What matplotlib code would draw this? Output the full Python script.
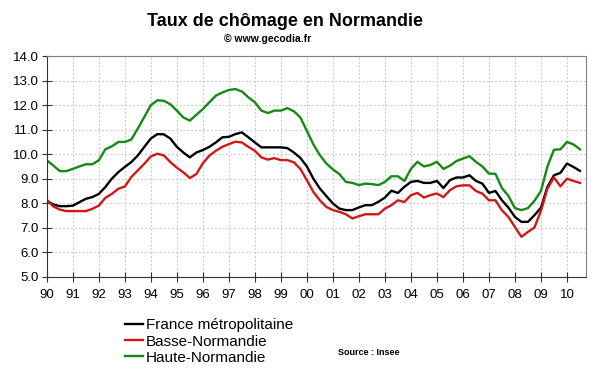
import matplotlib.pyplot as plt
import numpy as np

plt.rcParams['font.family'] = ['Liberation Sans', 'DejaVu Sans']

# Quarterly unemployment rate (%), 1990 Q1 -> 2010 Q3
start_year = 1990
france = [8.1, 7.95, 7.88, 7.88, 7.9, 8.04, 8.18, 8.25,
          8.38, 8.66, 9.0, 9.27, 9.48, 9.68, 9.95, 10.3,
          10.64, 10.82, 10.81, 10.64, 10.3, 10.07, 9.87, 10.07,
          10.17, 10.3, 10.48, 10.69, 10.71, 10.82, 10.89, 10.69,
          10.48, 10.28, 10.28, 10.28, 10.28, 10.25, 10.07, 9.85,
          9.5, 9.0, 8.6, 8.29, 7.99, 7.78, 7.72, 7.72,
          7.83, 7.92, 7.92, 8.06, 8.23, 8.51, 8.42, 8.67,
          8.87, 8.91, 8.83, 8.83, 8.91, 8.62, 8.94, 9.05,
          9.05, 9.14, 8.91, 8.8, 8.42, 8.5, 8.12, 7.82,
          7.44, 7.24, 7.24, 7.51, 7.82, 8.67, 9.14, 9.24,
          9.62, 9.48, 9.32]
basse = [8.14, 7.87, 7.74, 7.68, 7.68, 7.68, 7.68, 7.77,
         7.9, 8.22, 8.38, 8.59, 8.68, 9.07, 9.34, 9.61,
         9.91, 10.02, 9.95, 9.68, 9.45, 9.26, 9.03, 9.19,
         9.63, 9.94, 10.14, 10.3, 10.41, 10.51, 10.48, 10.3,
         10.14, 9.87, 9.78, 9.84, 9.76, 9.76, 9.67, 9.4,
         8.94, 8.46, 8.12, 7.85, 7.72, 7.65, 7.55, 7.38,
         7.47, 7.55, 7.55, 7.55, 7.78, 7.92, 8.12, 8.05,
         8.33, 8.42, 8.23, 8.33, 8.4, 8.25, 8.53, 8.69,
         8.73, 8.73, 8.5, 8.39, 8.12, 8.12, 7.71, 7.44,
         7.03, 6.63, 6.83, 7.01, 7.69, 8.6, 9.05, 8.69,
         9.0, 8.91, 8.83]
haute = [9.75, 9.54, 9.31, 9.31, 9.4, 9.5, 9.59, 9.59,
         9.75, 10.2, 10.32, 10.5, 10.5, 10.6, 11.05, 11.52,
         12.0, 12.2, 12.18, 12.04, 11.78, 11.5, 11.37, 11.61,
         11.84, 12.12, 12.39, 12.52, 12.62, 12.66, 12.56, 12.32,
         12.12, 11.78, 11.68, 11.78, 11.78, 11.88, 11.75, 11.5,
         10.95, 10.4, 9.96, 9.62, 9.38, 9.19, 8.87, 8.83,
         8.74, 8.8, 8.78, 8.74, 8.87, 9.1, 9.1, 8.91,
         9.4, 9.69, 9.5, 9.56, 9.69, 9.4, 9.53, 9.72,
         9.82, 9.92, 9.69, 9.5, 9.21, 9.2, 8.62, 8.3,
         7.8, 7.72, 7.8, 8.1, 8.5, 9.5, 10.18, 10.2,
         10.5, 10.4, 10.2]
years = list(range(1990, 2011))
year_labels = [f'{y % 100:02d}' for y in years]

x = start_year + np.arange(len(france)) / 4

fig = plt.figure(figsize=(6, 3.72), dpi=100)
ax = fig.add_axes([0.078, 0.256, 0.899, 0.593])

ax.plot(x, france, color='#000000', lw=1.7, label='France métropolitaine')
ax.plot(x, basse, color='#d01818', lw=1.7, label='Basse-Normandie')
ax.plot(x, haute, color='#148a14', lw=1.7, label='Haute-Normandie')

ax.set_xlim(1990, 2010.74)
ax.set_ylim(5, 14)
ax.set_xticks(years)
ax.set_xticklabels(year_labels, fontsize=9.5)
ax.set_yticks(np.arange(5, 14.5, 1))
ax.set_yticklabels([f'{v:.1f}' for v in np.arange(5, 14.5, 1)], fontsize=9.5)
ax.tick_params(axis='x', direction='inout', length=7, pad=5, color='#333333')
ax.tick_params(axis='y', direction='inout', length=7, pad=2, color='#333333')

ax.grid(True, ls=(0, (2, 2)), color='#c8c8c8', lw=0.7)
ax.set_axisbelow(True)
for side in ['left', 'bottom']:
    ax.spines[side].set_color('#333333')
for side in ['top', 'right']:
    ax.spines[side].set_color('#808080')

fig.text(0.475, 0.943, 'Taux de chômage en Normandie', ha='center', va='center',
         fontsize=13, fontweight='bold')
fig.text(0.446, 0.895, '© www.gecodia.fr', ha='center', va='center',
         fontsize=7.5, fontweight='bold')

ax.legend(loc='upper left', bbox_to_anchor=(0.195, 0.165), bbox_transform=fig.transFigure,
          frameon=False, fontsize=11, handlelength=1.2, handletextpad=0.2,
          labelspacing=0.15, borderpad=0)

fig.text(0.563, 0.052, 'Source : Insee', ha='left', va='center', fontsize=6.5, fontweight='bold')

fig.savefig('out.png', dpi=100)
